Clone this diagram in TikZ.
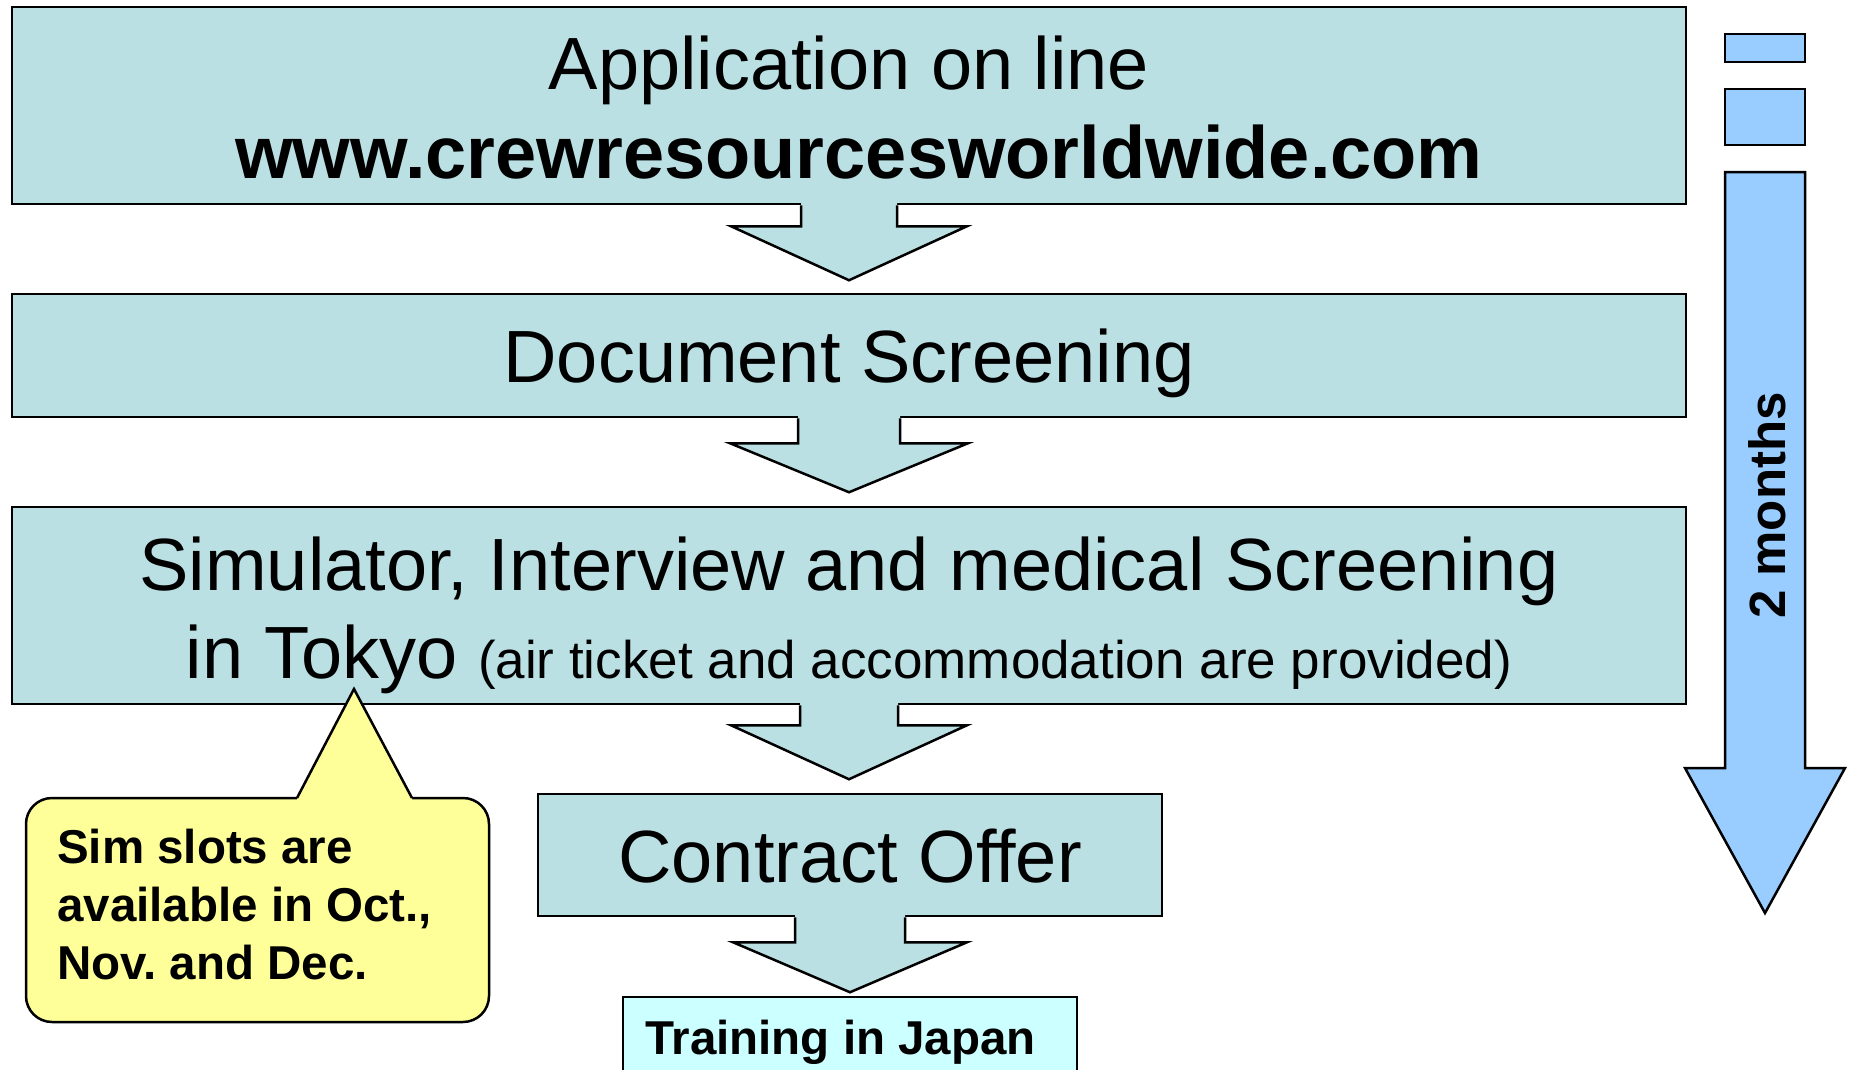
\documentclass[tikz,border=0pt]{standalone}
\usepackage{fontspec}
\setmainfont{Liberation Sans}
\usetikzlibrary{calc}
\frenchspacing
\definecolor{boxfill}{RGB}{187,224,227}
\definecolor{bluefill}{RGB}{153,204,255}
\definecolor{yellowfill}{RGB}{255,255,153}
\definecolor{trainfill}{RGB}{204,255,255}
\tikzset{
  outl/.style={draw=black, line width=2.5pt, line join=miter},
  stepbox/.style={outl, fill=boxfill, rectangle, inner sep=0pt},
  bluebox/.style={outl, fill=bluefill, rectangle, inner sep=0pt},
  bigtxt/.style={font=\fontsize{74}{88}\selectfont, inner sep=0pt, anchor=base},
  smalltxt/.style={font=\fontsize{53}{60}\selectfont, inner sep=0pt, anchor=base},
  boldtxt/.style={font=\fontsize{47.5}{58}\selectfont\bfseries, inner sep=0pt, anchor=base west},
}
% block arrow: #1 top centre, #2 shaft half width, #3 shaft length, #4 head half width, #5 head length
\newcommand\blockarr[5]{%
  \fill[boxfill] ($(#1)+(-#2,-4)$) -- ($(#1)+(-#2,#3)$) -- ($(#1)+(-#4,#3)$) -- ($(#1)+(0,#3+#5)$)
     -- ($(#1)+(#4,#3)$) -- ($(#1)+(#2,#3)$) -- ($(#1)+(#2,-4)$) -- cycle;
  \draw[outl] ($(#1)+(-#2,0)$) -- ($(#1)+(-#2,#3)$) -- ($(#1)+(-#4,#3)$) -- ($(#1)+(0,#3+#5)$)
     -- ($(#1)+(#4,#3)$) -- ($(#1)+(#2,#3)$) -- ($(#1)+(#2,0)$);%
}
\begin{document}
\begin{tikzpicture}[x=1pt,y=-1pt]
\useasboundingbox (0,0) rectangle (1849,1070);
\fill[white] (0,0) rectangle (1849,1070);
\clip (0,0) rectangle (1849,1070);

% boxes
\node[stepbox, minimum width=1674pt, minimum height=197pt] (b1) at (849,105.5) {};
\node[stepbox, minimum width=1674pt, minimum height=123pt] (b2) at (849,355.5) {};
\node[stepbox, minimum width=1674pt, minimum height=197pt] (b3) at (849,605.5) {};
\node[stepbox, minimum width=624pt, minimum height=122pt] (b4) at (850,855) {};
\node[outl, fill=trainfill, rectangle, inner sep=0pt, minimum width=454pt, minimum height=90pt] (b5) at (850,1042) {};

% texts
\node[bigtxt] (t1a) at (849,90) {Application on line};
\node[bigtxt] (t1b) at (859,178) {\bfseries www.crewresourcesworldwide.com};
\node[bigtxt] (t2) at (849,382) {Document Screening};
\node[bigtxt] (t3a) at (849,590) {Simulator, Interview and medical Screening};
\node[bigtxt] (t3b) at (849,678) {in Tokyo {\fontsize{53}{60}\selectfont (air ticket and accommodation are provided)}};
\node[bigtxt] (t4) at (850,882) {Contract Offer};
\node[boldtxt] (t5) at (645,1054) {Training in Japan};

% block arrows between steps
\blockarr{b1.south}{48}{21}{118}{54}
\blockarr{b2.south}{51}{25}{119}{49}
\blockarr{b3.south}{49}{20}{118}{54}
\blockarr{b4.south}{55}{25}{117}{50}

% time line on the right
\node[bluebox, minimum width=80pt, minimum height=28pt] (r1) at (1765,48) {};
\node[bluebox, minimum width=80pt, minimum height=56pt] (r2) at (1765,117) {};
\draw[outl, fill=bluefill] (1725,172) coordinate (bt) -- (1805,172) -- (1805,768) -- (1845,768)
   -- (1765,913) coordinate (btip) -- (1685,768) -- (1725,768) -- cycle;
\node[font=\fontsize{51}{60}\selectfont\bfseries, inner sep=0pt, anchor=base, rotate=90] (months) at (1785,505.5) {2 months};

% callout
\node[outl, fill=yellowfill, rectangle, rounded corners=26pt, inner sep=0pt, minimum width=463pt, minimum height=224pt] (call) at (257.5,910) {};
\fill[yellowfill] (297,798) -- (354,689) -- (412,798) -- (412,801) -- (297,801) -- cycle;
\draw[outl] (297,798) -- (354,689) coordinate (ctip) -- (412,798);
\node[boldtxt] (c1) at (57,863) {Sim slots are};
\node[boldtxt] (c2) at (57,921) {available in Oct.,};
\node[boldtxt] (c3) at (57,979) {Nov. and Dec.};
\end{tikzpicture}
\end{document}
